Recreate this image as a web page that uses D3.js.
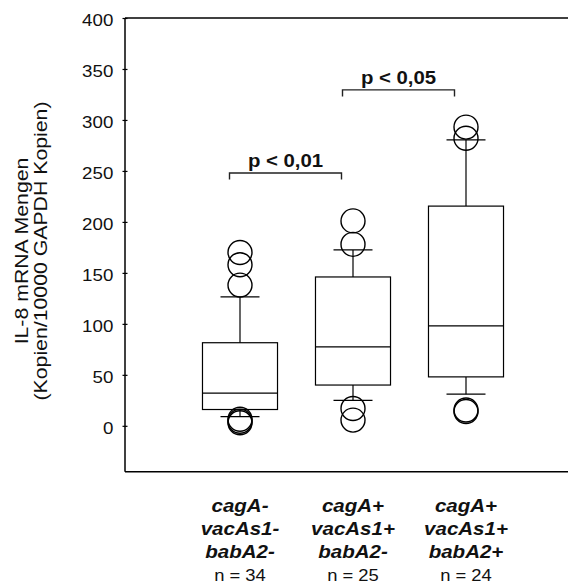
<!DOCTYPE html>
<html>
<head>
<meta charset="utf-8">
<script src="https://cdn.jsdelivr.net/npm/d3@7"></script>
<style>
  html, body { margin: 0; padding: 0; background: #fff; }
  svg { display: block; font-family: "Liberation Sans", Arial, sans-serif; }
</style>
</head>
<body>
<svg id="chart" width="568" height="584"></svg>
<script>
// ---------- data ----------
const categoryLines = [
  ["cagA-", "vacAs1-", "babA2-"],
  ["cagA+", "vacAs1+", "babA2-"],
  ["cagA+", "vacAs1+", "babA2+"]
];
const groupIds = ["g1", "g2", "g3"];
const nCounts = [34, 25, 24];
const lowerWhisker = [9, 25, 31];
const q1Values = [16, 40, 48];
const medianValues = [32, 77.5, 98];
const q3Values = [81.5, 146, 215.5];
const upperWhisker = [126.5, 172.5, 280.5];
const outlierValues = [
  [170, 158, 138, 6.5, 4.5, 3],
  [201, 178, 17, 5.6],
  [293, 282, 15.5, 14]
];
const yTicks = [0, 50, 100, 150, 200, 250, 300, 350, 400];
const bracketFrom = [0, 1];
const bracketTo = [1, 2];
const bracketLevel = [248, 329.5];
const bracketLabels = ["p < 0,01", "p < 0,05"];
const yTitleLines = ["IL-8 mRNA Mengen", "(Kopien/10000 GAPDH Kopien)"];

// ---------- layout ----------
const svg = d3.select("#chart");
const pLeft = 125, pRight = 568, pTop = 18, pBottom = 471.7;

const y = d3.scaleLinear().domain([-45, 400]).range([pBottom, pTop]);
const x = d3.scaleBand().domain(groupIds).range([183.5, 522.5]).paddingInner(0).paddingOuter(0);
const bw = x.bandwidth();
const cx = i => x(groupIds[i]) + bw / 2;
const boxW = bw * 0.664;
const capW = bw * 0.345;
const rOut = 12;

// frame: top, bottom, left
svg.append("line").attr("x1", pLeft).attr("x2", pRight).attr("y1", pTop).attr("y2", pTop)
  .attr("stroke", "#000").attr("stroke-width", 1.5);
svg.append("line").attr("x1", pLeft).attr("x2", pRight).attr("y1", pBottom).attr("y2", pBottom)
  .attr("stroke", "#000").attr("stroke-width", 1.5);
svg.append("line").attr("x1", pLeft).attr("x2", pLeft).attr("y1", pTop).attr("y2", pBottom)
  .attr("stroke", "#000").attr("stroke-width", 1.5);

// y axis ticks (crossing the axis line)
const yAxis = d3.axisLeft(y).tickValues(yTicks).tickSize(5).tickPadding(0).tickFormat(d3.format("d"));
const gAx = svg.append("g").attr("transform", `translate(${pLeft + 2.5},0)`).call(yAxis);
gAx.select(".domain").remove();
gAx.selectAll(".tick line").attr("stroke", "#000").attr("stroke-width", 1.2);
const tsx = 1.17;
gAx.selectAll(".tick text")
  .attr("x", -14.2 / tsx)
  .attr("dy", "7.5px")
  .attr("transform", `scale(${tsx},1)`)
  .attr("fill", "#111")
  .style("font-size", "16px")
  .style("font-family", "'Liberation Sans', Arial, sans-serif");

// y title
const ty = svg.append("g").attr("fill", "#111").style("font-size", "19px");
[28, 46.5].forEach((bx, i) => {
  ty.append("text")
    .attr("transform", `translate(${bx},251) rotate(-90) scale(1.12,1)`)
    .attr("text-anchor", "middle")
    .text(yTitleLines[i]);
});

// boxes
const gb = svg.append("g").attr("stroke", "#000").attr("stroke-width", 1.2).attr("fill", "none");
groupIds.forEach((id, i) => {
  const c = cx(i);
  gb.append("line").attr("x1", c).attr("x2", c).attr("y1", y(q3Values[i])).attr("y2", y(upperWhisker[i]));
  gb.append("line").attr("x1", c).attr("x2", c).attr("y1", y(q1Values[i])).attr("y2", y(lowerWhisker[i]));
  gb.append("line").attr("x1", c - capW / 2).attr("x2", c + capW / 2).attr("y1", y(upperWhisker[i])).attr("y2", y(upperWhisker[i]));
  gb.append("line").attr("x1", c - capW / 2).attr("x2", c + capW / 2).attr("y1", y(lowerWhisker[i])).attr("y2", y(lowerWhisker[i]));
  gb.append("rect").attr("x", c - boxW / 2).attr("width", boxW)
    .attr("y", y(q3Values[i])).attr("height", y(q1Values[i]) - y(q3Values[i]));
  gb.append("line").attr("x1", c - boxW / 2).attr("x2", c + boxW / 2).attr("y1", y(medianValues[i])).attr("y2", y(medianValues[i]));
  outlierValues[i].forEach(v => {
    gb.append("circle").attr("cx", c).attr("cy", y(v)).attr("r", rOut).attr("stroke-width", 1.4);
  });
});

// significance brackets
const gs = svg.append("g");
bracketLabels.forEach((lab, k) => {
  const x1 = cx(bracketFrom[k]) - 10.5;
  const x2 = cx(bracketTo[k]) - 11.5;
  const yy = y(bracketLevel[k]);
  gs.append("path")
    .attr("d", `M${x1},${yy + 6.5}V${yy}H${x2}V${yy + 6.5}`)
    .attr("fill", "none").attr("stroke", "#222").attr("stroke-width", 1.4);
  gs.append("text")
    .attr("transform", `translate(${(x1 + x2) / 2},${yy - 6}) scale(1.15,1)`)
    .attr("text-anchor", "middle")
    .attr("font-weight", "bold")
    .style("font-size", "17.7px")
    .attr("fill", "#111")
    .text(lab);
});

// x labels
const gx = svg.append("g").attr("fill", "#111");
const lineBase = [511.7, 535, 558.3];
groupIds.forEach((id, i) => {
  const c = cx(i);
  categoryLines[i].forEach((ln, j) => {
    gx.append("text")
      .attr("transform", `translate(${c},${lineBase[j]}) scale(1.08,1)`)
      .attr("text-anchor", "middle")
      .attr("font-weight", "bold")
      .attr("font-style", "italic")
      .style("font-size", "19px")
      .text(ln);
  });
  gx.append("text")
    .attr("transform", `translate(${c},580.5) scale(1.15,1)`)
    .attr("text-anchor", "middle")
    .style("font-size", "16px")
    .text("n = " + nCounts[i]);
});
</script>
</body>
</html>
